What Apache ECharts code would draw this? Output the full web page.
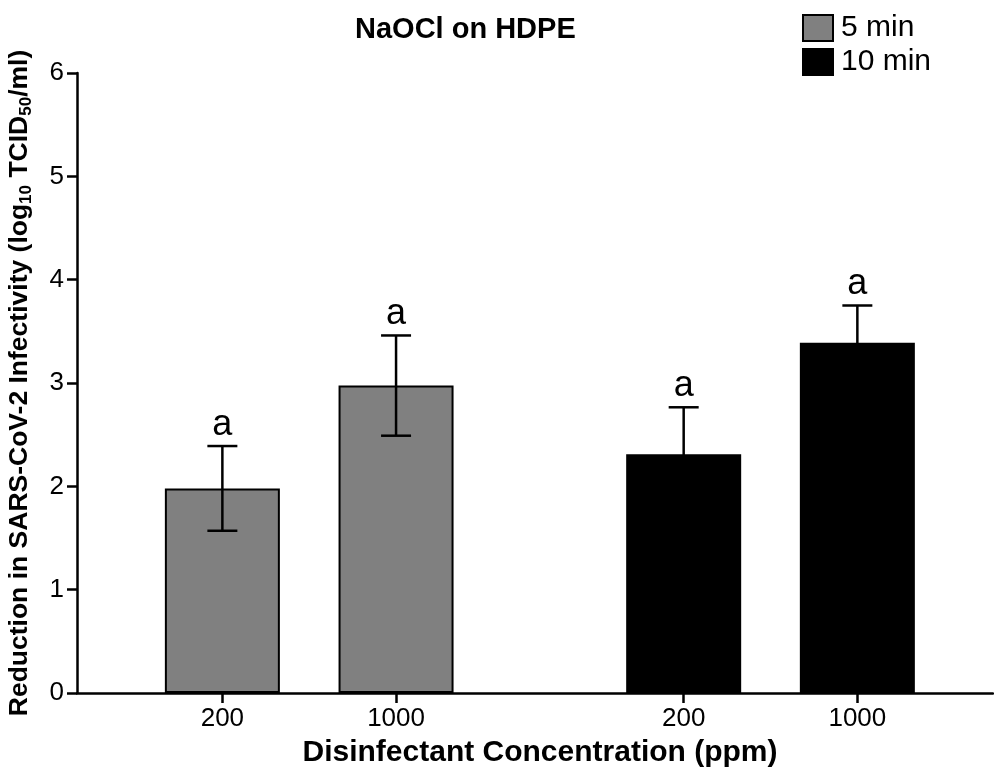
<!DOCTYPE html>
<html>
<head>
<meta charset="utf-8">
<title>NaOCl on HDPE</title>
<script src="https://cdn.jsdelivr.net/npm/echarts@6/dist/echarts.min.js"></script>
<style>
  html, body { margin: 0; padding: 0; background: #fff; }
  #chart { width: 994px; height: 777px; }
</style>
</head>
<body>
<div id="chart"></div>
<script>
// data
const concentrations = ['200', '1000'];
const times = ['5 min', '10 min'];
const means5 = [1.98, 2.975];
const sem5 = [0.41, 0.485];
const means10 = [2.31, 3.39];
const sem10 = [0.455, 0.36];
const letters5 = ['a', 'a'];
const letters10 = ['a', 'a'];
const yTicks = [0, 1, 2, 3, 4, 5, 6];

// layout on the x value axis (1 unit = distance between two bars of a group)
const groupStart = 0.837;
const groupStep = 1.656;
const xMax = 5.274;

const FONT = '"Liberation Sans", Arial, sans-serif';

function slot(g, i) {
  return groupStart + g * (concentrations.length - 1 + groupStep) + i;
}

const means = [means5, means10];
const sems = [sem5, sem10];
const letterSets = [letters5, letters10];

const tickPos = [];
const tickText = [];
const errData = [];
const errLetters = [];
times.forEach((t, g) => {
  concentrations.forEach((c, i) => {
    tickPos.push(slot(g, i));
    tickText.push(c);
    errData.push([slot(g, i), means[g][i] - sems[g][i], means[g][i] + sems[g][i]]);
    errLetters.push(letterSets[g][i]);
  });
});

const barSeries = times.map((t, g) => ({
  name: t,
  type: 'bar',
  barWidth: 115,
  barGap: '-100%',
  z: 2,
  itemStyle: {
    color: g === 0 ? '#808080' : '#000000',
    borderColor: '#000',
    borderWidth: 2
  },
  data: concentrations.map((c, i) => [slot(g, i), means[g][i]])
}));

const myChart = echarts.init(document.getElementById('chart'));
myChart.setOption({
  animation: false,
  backgroundColor: '#fff',
  title: {
    text: 'NaOCl on HDPE',
    left: 350,
    top: 10,
    textStyle: { fontFamily: FONT, fontSize: 29, fontWeight: 'bold', color: '#000' }
  },
  legend: {
    data: times,
    orient: 'vertical',
    left: 797,
    top: 8,
    itemWidth: 30,
    itemHeight: 26,
    itemGap: 4,
    icon: 'rect',
    textStyle: { fontFamily: FONT, fontSize: 30, lineHeight: 26, color: '#000', padding: [0, 0, 0, 3] }
  },
  grid: { left: 77, right: 1, top: 73, bottom: 84, containLabel: false, outerBoundsMode: 'none' },
  xAxis: {
    type: 'value',
    min: 0,
    max: xMax,
    splitLine: { show: false },
    axisLine: { lineStyle: { color: '#000', width: 2.5 } },
    axisTick: { customValues: tickPos, length: 10, lineStyle: { color: '#000', width: 2.5 } },
    axisLabel: {
      customValues: tickPos,
      margin: 13,
      fontFamily: FONT,
      fontSize: 26,
      color: '#000',
      formatter: (v) => tickText[tickPos.indexOf(v)]
    },
    name: 'Disinfectant Concentration (ppm)',
    nameLocation: 'middle',
    nameGap: 45,
    nameTextStyle: { fontFamily: FONT, fontSize: 30, fontWeight: 'bold', color: '#000', padding: [0, 0, 0, 10] }
  },
  yAxis: {
    type: 'value',
    min: yTicks[0],
    max: yTicks[yTicks.length - 1],
    interval: 1,
    splitLine: { show: false },
    axisLine: { show: true, lineStyle: { color: '#000', width: 2.5 } },
    axisTick: { show: true, length: 10, lineStyle: { color: '#000', width: 2.5 } },
    axisLabel: { margin: 13, fontFamily: FONT, fontSize: 26, color: '#000' },
    name: '{t|Reduction in SARS-CoV-2 Infectivity (log}{s|10}{t| TCID}{s|50}{t|/ml)}',
    nameLocation: 'middle',
    nameRotate: 90,
    nameGap: 42,
    nameTextStyle: {
      rich: {
        t: { fontFamily: FONT, fontSize: 26.5, fontWeight: 'bold', color: '#000', lineHeight: 30 },
        s: { fontFamily: FONT, fontSize: 17, fontWeight: 'bold', color: '#000', lineHeight: 30, padding: [12, 0, 0, 0] }
      }
    }
  },
  series: barSeries.concat([{
    type: 'custom',
    name: 'err',
    z: 5,
    encode: { x: 0, y: [1, 2] },
    data: errData,
    renderItem: (params, api) => {
      const x = api.value(0);
      const lo = api.coord([x, api.value(1)]);
      const hi = api.coord([x, api.value(2)]);
      const hw = 15;
      const ls = { stroke: '#000', lineWidth: 2.5 };
      return {
        type: 'group',
        children: [
          { type: 'line', shape: { x1: lo[0], y1: lo[1], x2: hi[0], y2: hi[1] }, style: ls },
          { type: 'line', shape: { x1: hi[0] - hw, y1: hi[1], x2: hi[0] + hw, y2: hi[1] }, style: ls },
          { type: 'line', shape: { x1: lo[0] - hw, y1: lo[1], x2: lo[0] + hw, y2: lo[1] }, style: ls },
          {
            type: 'text',
            style: {
              text: errLetters[params.dataIndex],
              x: hi[0],
              y: hi[1] - 3,
              align: 'center',
              verticalAlign: 'bottom',
              font: '36px ' + FONT,
              fill: '#000'
            }
          }
        ]
      };
    }
  }])
});
window.addEventListener('resize', function () { myChart.resize(); });
</script>
</body>
</html>
